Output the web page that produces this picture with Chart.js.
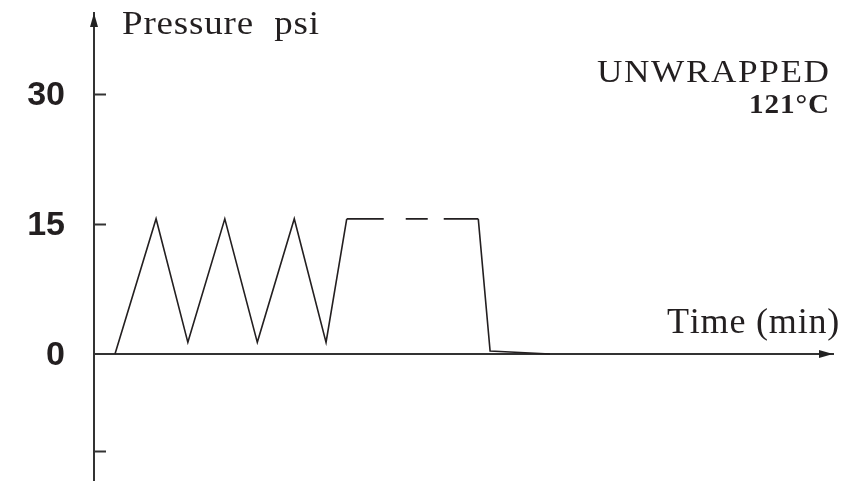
<!DOCTYPE html>
<html>
<head>
<meta charset="utf-8">
<script src="https://cdn.jsdelivr.net/npm/chart.js@4/dist/chart.umd.min.js"></script>
<style>
  html, body { margin: 0; padding: 0; background: #fff; }
  #chart { display: block; }
</style>
</head>
<body>
<canvas id="chart" width="858" height="481"></canvas>
<script>
// time axis has no numbers in the picture, so these are just relative minutes
const times    = [2.84, 8.4, 12.7, 17.7, 22.1, 27.1, 31.4, 34.2, 52.0, 53.6, 61.7];
const pressure = [0, 15.6, 1.35, 15.6, 1.35, 15.6, 1.35, 15.6, 15.6, 0.35, 0];
const yTicks   = [-11.2, 0, 15, 30];
const yLabels  = ['', '0', '15', '30'];

const ink = '#231f20';

// spreads a string so it fills a given width, like the letter-spaced labels in the figure
function spreadText(ctx, text, x, y, width, font, stretch) {
  ctx.save();
  ctx.font = font;
  ctx.translate(x, y);
  ctx.scale(stretch, 1);
  const w = ctx.measureText(text).width;
  const gap = (width / stretch - w) / (text.length - 1);
  let cx = 0;
  for (const ch of text) {
    ctx.fillText(ch, cx, 0);
    cx += ctx.measureText(ch).width + gap;
  }
  ctx.restore();
}

const decorations = {
  id: 'decorations',
  afterDraw(chart) {
    const ctx = chart.ctx;
    const area = chart.chartArea;
    const ys = chart.scales.y;
    const x0 = area.left;
    const yZero = ys.getPixelForValue(0);
    ctx.save();
    // ticks on the inside of the y axis, labels on the outside
    ctx.strokeStyle = '#333';
    ctx.lineWidth = 2;
    ctx.fillStyle = ink;
    ctx.font = 'bold 34px "Liberation Sans"';
    ctx.textAlign = 'right';
    ctx.textBaseline = 'middle';
    yTicks.forEach((v, i) => {
      const py = Math.round(ys.getPixelForValue(v)) + 0.5;
      if (yLabels[i]) ctx.fillText(yLabels[i], x0 - 29, py + 1);
      if (v === 0) return;
      ctx.beginPath();
      ctx.moveTo(x0, py);
      ctx.lineTo(x0 + 12, py);
      ctx.stroke();
    });
    // arrow heads
    ctx.fillStyle = '#222';
    ctx.beginPath();
    ctx.moveTo(x0, area.top);
    ctx.lineTo(x0 - 4, area.top + 14);
    ctx.lineTo(x0 + 4, area.top + 14);
    ctx.closePath();
    ctx.fill();
    const xr = area.right;
    ctx.beginPath();
    ctx.moveTo(xr, yZero);
    ctx.lineTo(xr - 14, yZero - 4);
    ctx.lineTo(xr - 14, yZero + 4);
    ctx.closePath();
    ctx.fill();
    // texts
    ctx.fillStyle = ink;
    ctx.textBaseline = 'alphabetic';
    ctx.textAlign = 'left';
    spreadText(ctx, 'Pressure  psi', 122, 34, 197, '33px "Liberation Serif"', 1.12);
    spreadText(ctx, 'UNWRAPPED', 597, 82, 232, '32px "Liberation Serif"', 1.1);
    spreadText(ctx, '121°C', 749, 113, 80, 'bold 27px "Liberation Serif"', 1.08);
    spreadText(ctx, 'Time (min)', 667, 333, 171, '35px "Liberation Serif"', 1.03);
    ctx.restore();
  }
};

new Chart(document.getElementById('chart'), {
  type: 'line',
  data: {
    datasets: [{
      data: times.map((t, i) => ({x: t, y: pressure[i]})),
      borderColor: ink,
      borderWidth: 1.6,
      pointRadius: 0,
      tension: 0,
      fill: false,
      segment: {
        borderDash: ctx => ctx.p0DataIndex === 7 ? [37, 22, 22, 16, 40, 10] : undefined
      }
    }]
  },
  options: {
    responsive: false,
    animation: false,
    layout: { padding: { top: 13, right: 25, bottom: 0, left: 0 } },
    plugins: {
      legend: { display: false },
      tooltip: { enabled: false }
    },
    scales: {
      x: {
        type: 'linear',
        min: 0,
        max: 100,
        position: { y: 0 },
        ticks: { display: false },
        grid: { drawOnChartArea: false, drawTicks: false },
        border: { display: true, color: '#333', width: 2 },
        afterFit(scale) { scale.height = 0; }
      },
      y: {
        type: 'linear',
        min: -14.65,
        max: 39.35,
        position: 'left',
        ticks: { display: false },
        grid: { drawOnChartArea: false, drawTicks: false },
        border: { display: true, color: '#333', width: 2 },
        afterFit(scale) { scale.width = 94; scale.paddingTop = 0; scale.paddingBottom = 0; }
      }
    }
  },
  plugins: [decorations]
});
</script>
</body>
</html>
